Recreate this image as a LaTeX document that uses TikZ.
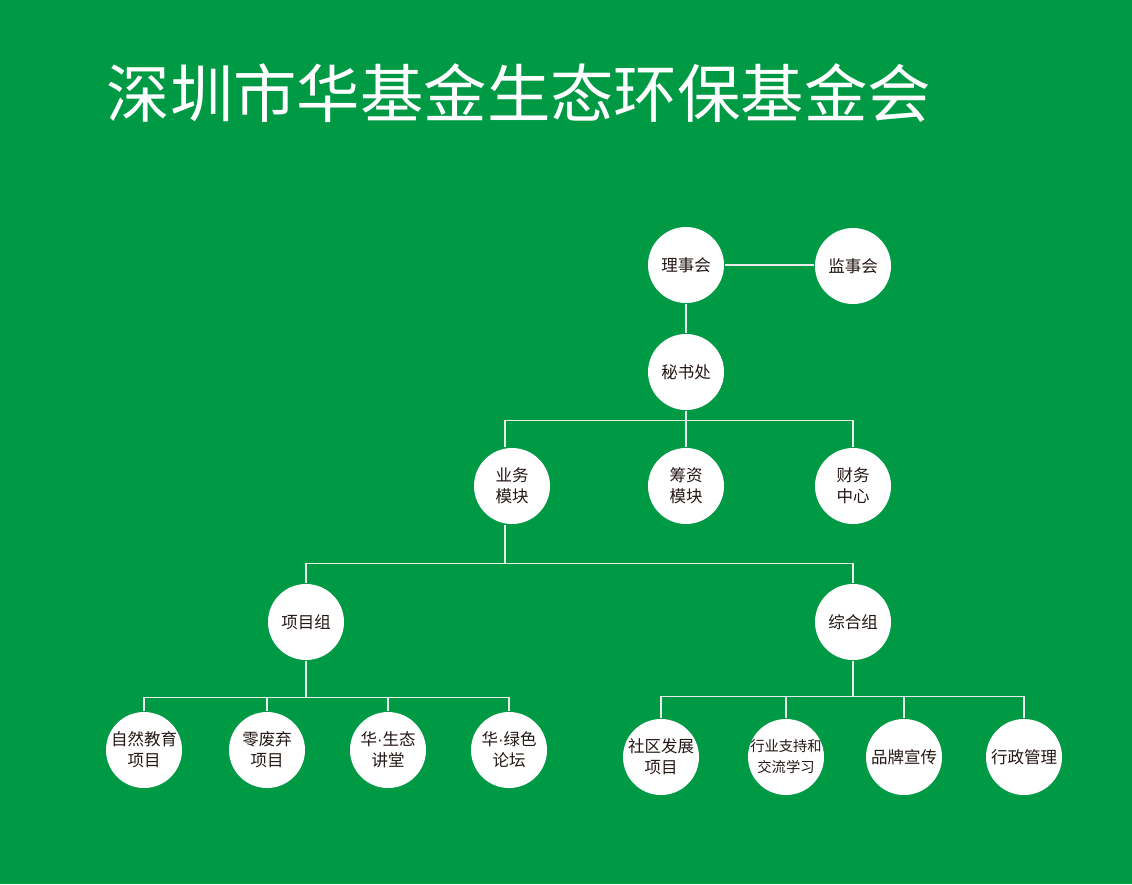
\documentclass[tikz,border=0pt]{standalone}
\usepackage{fontspec}
\newfontfamily\cjk{Noto Sans CJK SC}
\newfontfamily\latin{Liberation Sans}
\usetikzlibrary{positioning,calc}
\definecolor{bggreen}{RGB}{0,153,68}
\definecolor{inkgray}{RGB}{35,24,21}
\newcommand{\mdot}{{\latin\char"00B7}}
\tikzset{
  org/.style={x=1pt,y=-1pt,line width=1.2pt,
    every node/.style={font=\cjk}},
  unit/.style={circle,fill=white,draw=none,minimum size=76pt,inner sep=-6pt,
    align=center,text=inkgray,font=\cjk\fontsize{16.5}{21}\selectfont},
  link/.style={draw=white!92!black},
}

\begin{document}
\begin{tikzpicture}[org]
  \fill[bggreen] (0,0) rectangle (1132,884);
  \useasboundingbox (0,0) rectangle (1132,884);
  \node[anchor=west,inner sep=0pt,text=white,font=\cjk\fontsize{63.4}{64}\selectfont]
    (title) at (106,93) {深圳市华基金生态环保基金会};
  % top levels
  \node[unit] (lsh) at (686,265) {理事会};
  \node[unit] (jsh) at (853,266) {监事会};
  \node[unit] (msc) at (686,372) {秘书处};
  \node[unit] (ywmk) at (512,486) {业务\\模块};
  \node[unit] (czmk) at (686,486) {筹资\\模块};
  \node[unit] (cwzx) at (853,486) {财务\\中心};
  \node[unit] (xmz) at (306,622) {项目组};
  \node[unit] (zhz) at (853,622) {综合组};
  % projects
  \node[unit] (zrjy) at (144,750) {自然教育\\项目};
  \node[unit] (lfq) at (267,750) {零废弃\\项目};
  \node[unit] (hst) at (388,750) {华\mdot 生态\\讲堂};
  \node[unit] (hlslt) at (509,750) {华\mdot 绿色\\论坛};
  % general affairs
  \node[unit] (sqfz) at (661,757) {社区发展\\项目};
  \node[unit,font=\cjk\fontsize{14.3}{21}\selectfont] (hyzc) at (786,757) {行业支持和\\交流学习};
  \node[unit] (ppxc) at (904,757) {品牌宣传};
  \node[unit] (xzgl) at (1024,757) {行政管理};

  \draw[link] (lsh.east) -- (lsh.east -| jsh.west);
  \draw[link] (lsh) -- (msc);
  \draw[link] (msc) -- (czmk);
  \draw[link] ([xshift=-7pt]ywmk.north) -- ++(0,-27) -| (cwzx.north);
  \draw[link] ([xshift=-7pt]ywmk.south) -- ++(0,39) coordinate (b2);
  \draw[link] (xmz.north) |- (b2) -| (zhz.north);
  \draw[link] (xmz.south) -- ++(0,37) coordinate (b3);
  \draw[link] (zrjy.north) |- (b3) -| (hlslt.north);
  \foreach \n in {lfq,hst}
    \draw[link] (\n.north) -- (\n.north |- b3);
  \draw[link] (zhz.south) -- ++(0,36) coordinate (b4);
  \draw[link] (sqfz.north) |- (b4) -| (xzgl.north);
  \foreach \n in {hyzc,ppxc}
    \draw[link] (\n.north) -- (\n.north |- b4);
\end{tikzpicture}
\end{document}
